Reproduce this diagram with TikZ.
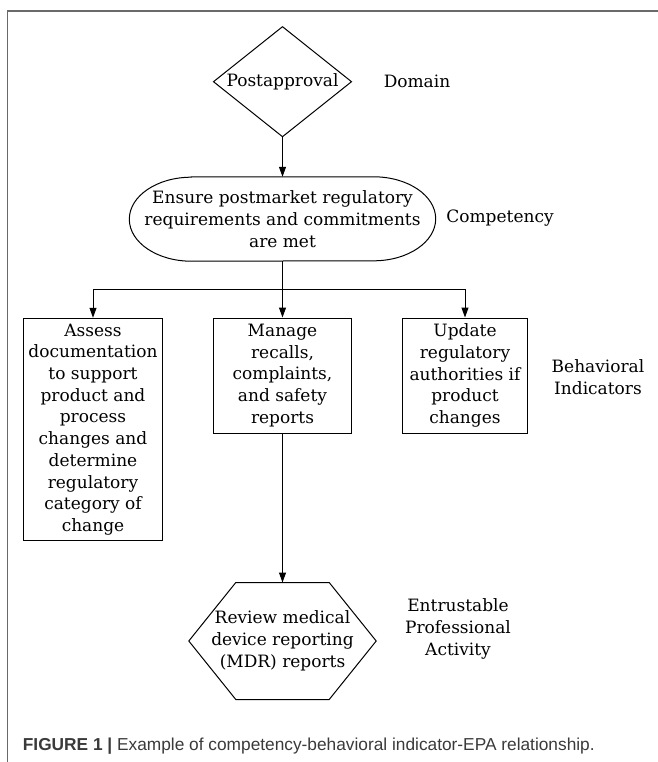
\documentclass[tikz,border=0pt]{standalone}
\usepackage{fontspec}
\setmainfont{DejaVu Serif}
\newfontfamily\capfont{Liberation Sans}
\usetikzlibrary{arrows.meta,shapes.geometric,calc}
\definecolor{framegray}{HTML}{6A6A6A}
\definecolor{capgray}{HTML}{3A3A3A}
\begin{document}
\begin{tikzpicture}[x=1pt,y=1pt,
  txt/.style={font=\fontsize{17}{21.7}\selectfont, align=center, text=black},
  box/.style={draw, line width=1pt, inner sep=0pt, txt},
  outline/.style={draw, line width=1pt},
  arr/.style={-{Triangle[length=10pt,width=7pt]}, line width=1pt}]
\useasboundingbox (0,0) rectangle (657,-762);
\draw[framegray, line width=1.3pt] (7.5,-770) -- (7.5,-11) -- (670,-11);

\node[draw, diamond, shape aspect=1.25, minimum width=138pt, minimum height=110pt,
  inner sep=0pt, outer sep=0pt, line width=1pt, txt] (dom) at (282.5,-81.7) {Postapproval};
\node[txt] (domL) at (417,-81.7) {Domain};

\node[txt, minimum width=306pt, minimum height=84pt, inner sep=0pt] (comp) at (282.5,-219)
  {Ensure postmarket regulatory\\requirements and commitments\\are met};
\draw[outline] ($(comp.north west)+(62,0)$) -- ($(comp.north east)+(-62,0)$)
  arc[start angle=90, end angle=-90, x radius=62pt, y radius=42pt]
  -- ($(comp.south west)+(62,0)$)
  arc[start angle=270, end angle=90, x radius=62pt, y radius=42pt] -- cycle;
\node[txt] (compL) at (500,-218) {Competency};

\node[box, minimum width=139pt, minimum height=222.5pt] (b1) at (93,-429.5)
  {Assess\\documentation\\to support\\product and\\process\\changes and\\determine\\regulatory\\category of\\change};
\node[box, minimum width=138pt, minimum height=115pt] (b2) at (282.5,-375.5)
  {Manage\\recalls,\\complaints,\\and safety\\reports};
\node[box, minimum width=125pt, minimum height=115pt] (b3) at (465,-375.5)
  {Update\\regulatory\\authorities if\\product\\changes};
\node[txt] (biL) at (598,-377) {Behavioral\\Indicators};

\node[txt, minimum width=187pt, minimum height=116.6pt, inner sep=0pt] (epa) at (282.5,-641)
  {Review medical\\device reporting\\(MDR) reports};
\draw[outline] (epa.west) -- ($(epa.north west)+(47,0)$) -- ($(epa.north east)+(-47,0)$)
  -- (epa.east) -- ($(epa.south east)+(-47,0)$) -- ($(epa.south west)+(47,0)$) -- cycle;
\node[txt] (epaL) at (458,-629) {Entrustable\\Professional\\Activity};

\coordinate (jn) at (282.5,-289);
\draw[arr] (dom.south) -- (dom.south |- comp.north);
\draw[line width=1pt] (comp.south) -- (jn);
\draw[arr] (jn) -- (b2.north);
\draw[arr] (jn) -| (b1.north);
\draw[arr] (jn) -| (b3.north);
\draw[arr] (b2.south) -- (epa.north);

\node[anchor=base west, inner sep=0pt, text=capgray, font=\capfont\fontsize{17.3}{20}\selectfont]
  (cap) at (22.7,-750) {\textbf{FIGURE 1 |} Example of competency-behavioral indicator-EPA relationship.};
\end{tikzpicture}
\end{document}
